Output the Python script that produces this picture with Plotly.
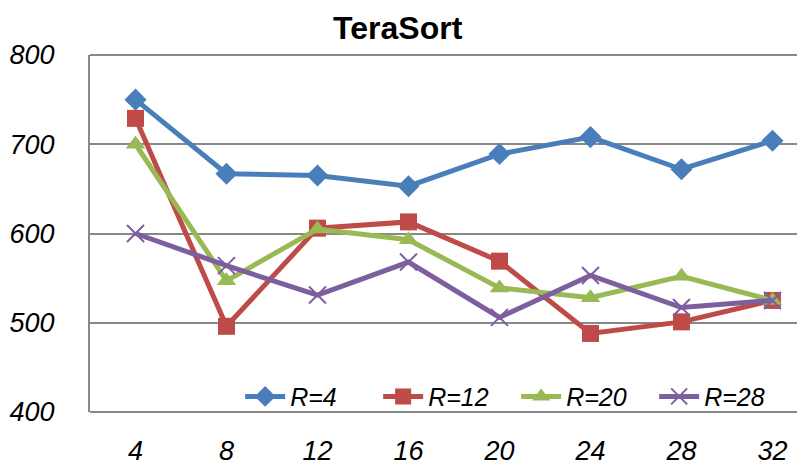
import plotly.graph_objects as go

x_vals = [4, 8, 12, 16, 20, 24, 28, 32]
r4 = [750, 667, 665, 653, 689, 708, 672, 704]
r12 = [729, 496, 606, 613, 569, 488, 501, 525]
r20 = [700, 547, 605, 593, 539, 528, 552, 525]
r28 = [600, 564, 531, 568, 506, 553, 517, 525]
series_names = ["<i>R=4</i>", "<i>R=12</i>", "<i>R=20</i>", "<i>R=28</i>"]
colors = ["#4A7EBB", "#BE4B48", "#98B954", "#7D5FA0"]
symbols = ["diamond", "square", "triangle-up", "x-thin"]

fig = go.Figure()
for name, ys, c, s in zip(series_names, [r4, r12, r20, r28], colors, symbols):
    marker = dict(symbol=s, size=17, color=c)
    if s == "x-thin":
        marker = dict(symbol=s, size=17, color=c, line=dict(color=c, width=2))
    fig.add_trace(go.Scatter(x=x_vals, y=ys, name=name, mode="lines+markers",
                             line=dict(color=c, width=5), marker=marker))

FONT = "Liberation Sans, Arial, sans-serif"
tick_font = dict(family=FONT, size=27, color="black")
fig.update_layout(
    width=797, height=460,
    margin=dict(l=82, r=0, t=47, b=56, autoexpand=False),
    paper_bgcolor="white", plot_bgcolor="white",
    title=dict(text="<b>TeraSort</b>", x=0.489, xanchor="center", y=0.958, yanchor="middle",
               font=dict(family=FONT, size=32, color="black")),
    xaxis=dict(range=[2, 33.43], tickvals=x_vals, ticktext=[f"<i>{v}</i>" for v in x_vals],
               showgrid=False, zeroline=False, showline=False, tickfont=tick_font, ticks="",
               ticklabelstandoff=20, automargin=False),
    yaxis=dict(range=[400, 800], tickvals=[400, 500, 600, 700, 800],
               ticktext=["<i>400</i>", "<i>500</i>", "<i>600</i>", "<i>700</i>", "<i>800</i>"],
               showgrid=True, gridcolor="#888888", gridwidth=2, zeroline=False,
               showline=True, linecolor="#888888", linewidth=2, mirror=False,
               tickfont=tick_font, ticks="", ticklabelstandoff=28, automargin=False),
    legend=dict(orientation="h", x=0.21, y=0.043, xanchor="left", yanchor="middle",
                bgcolor="rgba(0,0,0,0)", font=dict(family=FONT, size=25, color="black"),
                tracegroupgap=0, entrywidth=83, entrywidthmode="pixels", itemwidth=40),
    showlegend=True,
)
fig.add_shape(type="line", xref="paper", yref="paper", x0=0, x1=1, y0=1, y1=1,
              line=dict(color="#888888", width=2))
fig.add_shape(type="line", xref="paper", yref="paper", x0=0, x1=1, y0=0, y1=0,
              line=dict(color="#888888", width=2))
fig.write_html("out.html")
